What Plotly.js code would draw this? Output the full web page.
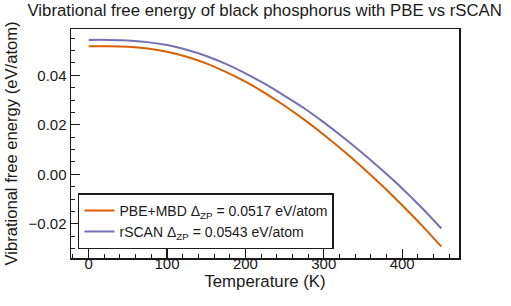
<!DOCTYPE html>
<html>
<head>
<meta charset="utf-8">
<script src="https://cdn.plot.ly/plotly-3.0.1.min.js"></script>
<style>html,body{margin:0;padding:0;background:#fff;}#chart{width:511px;height:306px;}</style>
</head>
<body>
<div id="chart"></div>
<script>
const temperature = [0, 25, 50, 75, 100, 125, 150, 175, 200, 225, 250, 275, 300, 325, 350, 375, 400, 425, 450];
const pbeMbd = [0.0517, 0.0517, 0.0515, 0.0508, 0.0495, 0.0475, 0.0448, 0.0414, 0.0374, 0.0328, 0.0277, 0.0221, 0.0160, 0.0095, 0.0026, -0.0047, -0.0125, -0.0206, -0.0292];
const rScan = [0.0543, 0.0543, 0.0541, 0.0534, 0.0522, 0.0503, 0.0478, 0.0446, 0.0408, 0.0365, 0.0317, 0.0267, 0.0210, 0.0149, 0.0084, 0.0015, -0.0057, -0.0135, -0.0219];
const seriesNames = ["PBE+MBD Δ<sub>ZP</sub> = 0.0517 eV/atom", "rSCAN Δ<sub>ZP</sub> = 0.0543 eV/atom"];
const titleText = "Vibrational free energy of black phosphorus with PBE vs rSCAN";
const xTitle = "Temperature (K)";
const yTitle = "Vibrational free energy (eV/atom)";

const fontFam = "Liberation Sans, Arial, sans-serif";
const ink = "#1a1a1a";
const traces = [
  {x: temperature, y: pbeMbd, name: seriesNames[0], mode: "lines", line: {color: "#d95f02", width: 2, shape: "spline", smoothing: 0.8}},
  {x: temperature, y: rScan, name: seriesNames[1], mode: "lines", line: {color: "#7570b3", width: 2, shape: "spline", smoothing: 0.8}},
  {x: [], y: [], xaxis: "x3", yaxis: "y", mode: "lines", showlegend: false, hoverinfo: "skip"}
];
const xRange = [-22.5, 472.5];
const yRange = [-0.0338, 0.0587];
const layout = {
  width: 511, height: 306,
  margin: {l: 71, r: 52, t: 29, b: 48},
  paper_bgcolor: "#fff", plot_bgcolor: "#fff",
  font: {family: fontFam, color: ink, size: 15},
  showlegend: true,
  title: {text: titleText, font: {family: fontFam, size: 16.8, color: ink}, x: 0.518, xanchor: "center", y: 0.985, yanchor: "top"},
  xaxis: {
    range: xRange, dtick: 100, tick0: 0, showgrid: false, zeroline: false,
    showline: true, linecolor: ink, linewidth: 1.5, mirror: true,
    ticks: "inside", ticklen: 9, tickwidth: 1.2, tickcolor: ink,
    minor: {dtick: 20, ticks: "inside", ticklen: 4, tickwidth: 1, tickcolor: ink, showgrid: false},
    showticklabels: false
  },
  xaxis2: {
    overlaying: "x", matches: "x", anchor: "y", side: "bottom",
    range: xRange, dtick: 100, tick0: 0, showgrid: false, zeroline: false, showline: false,
    ticks: "outside", ticklen: 3, tickwidth: 1.2, tickcolor: ink, showticklabels: false
  },
  xaxis3: {
    overlaying: "x", matches: "x", anchor: "free", position: 0.022, side: "bottom",
    range: xRange, dtick: 100, tick0: 0, showgrid: false, zeroline: false, showline: false,
    ticks: "", showticklabels: true, tickfont: {size: 15, color: ink},
    title: {text: xTitle, font: {size: 16.8, color: ink}, standoff: 2}
  },
  yaxis: {
    range: yRange, dtick: 0.02, tick0: 0, tickformat: ".2f", showgrid: false, zeroline: false,
    showline: true, linecolor: ink, linewidth: 1.5, mirror: true,
    ticks: "inside", ticklen: 9, tickwidth: 1.2, tickcolor: ink,
    minor: {dtick: 0.005, ticks: "inside", ticklen: 4, tickwidth: 1, tickcolor: ink, showgrid: false},
    tickfont: {size: 15, color: ink},
    title: {text: yTitle, font: {size: 16.6, color: ink}, standoff: 6}
  },
  yaxis2: {
    overlaying: "y", matches: "y", anchor: "x", side: "left",
    range: yRange, dtick: 0.02, tick0: 0, showgrid: false, zeroline: false, showline: false,
    ticks: "outside", ticklen: 3, tickwidth: 1.2, tickcolor: ink, showticklabels: false
  },
  legend: {
    x: 0.018, y: 0.038, xanchor: "left", yanchor: "bottom",
    bgcolor: "#fff", bordercolor: ink, borderwidth: 1.5,
    font: {size: 14, color: ink}, tracegroupgap: 0
  }
};
Plotly.newPlot("chart", traces, layout, {displayModeBar: false, staticPlot: true});
</script>
</body>
</html>
